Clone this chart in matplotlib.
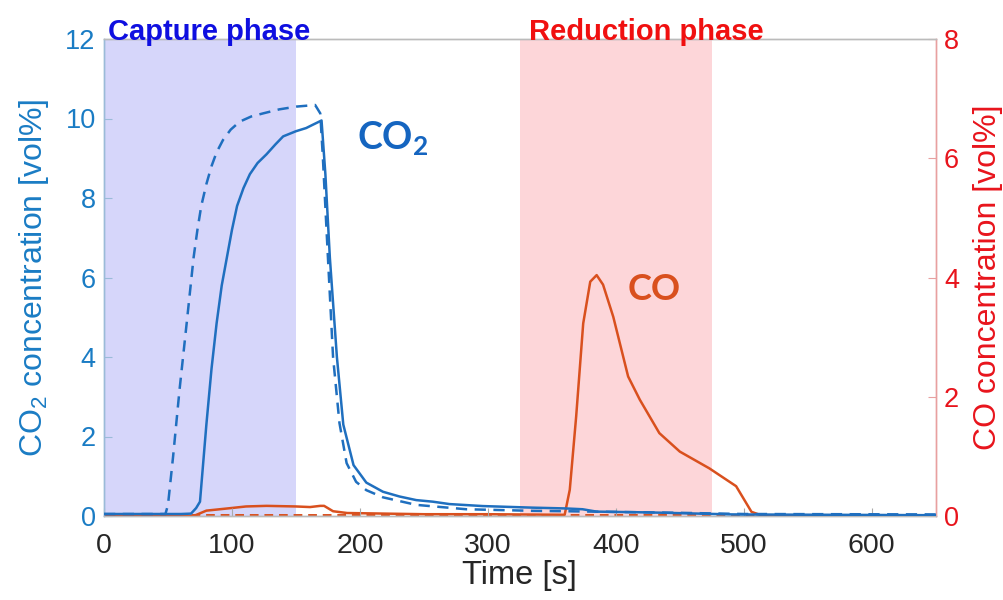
import matplotlib
matplotlib.use("Agg")
import matplotlib.pyplot as plt

# CO2 outlet, solid (measured) [vol%]
co2_t = [0, 60, 68, 72, 75, 80, 84, 88, 92, 96, 100, 104, 109, 114, 120, 127, 134,
         140, 150, 158, 163, 170, 173, 176.5, 182, 187, 195, 205, 218, 231, 244, 257,
         270, 296, 335, 361, 374, 385, 426, 491, 650]
co2_v = [0.05, 0.05, 0.06, 0.2, 0.36, 2.3, 3.7, 4.85, 5.8, 6.5, 7.2, 7.8, 8.25, 8.6,
         8.88, 9.1, 9.35, 9.55, 9.68, 9.76, 9.84, 9.95, 8.6, 6.5, 4.0, 2.3, 1.28, 0.84,
         0.61, 0.49, 0.4, 0.36, 0.3, 0.25, 0.21, 0.19, 0.17, 0.11, 0.09, 0.04, 0.02]

# CO2, dashed (reference) [vol%]
co2d_t = [0, 48, 50, 54, 59, 64.6, 70, 73, 76, 80, 84, 88, 93, 99, 106, 115, 124.5,
          137, 150.5, 165, 169, 171, 175, 179, 184, 189.6, 197, 205, 218, 244, 283,
          335, 361, 450, 500, 650]
co2d_v = [0.05, 0.05, 0.28, 1.5, 3.17, 4.85, 6.5, 7.2, 7.8, 8.35, 8.8, 9.15, 9.46,
          9.72, 9.92, 10.05, 10.13, 10.23, 10.3, 10.34, 10.13, 9.04, 6.5, 4.0, 2.34,
          1.33, 0.86, 0.65, 0.47, 0.28, 0.17, 0.13, 0.12, 0.08, 0.05, 0.04]

# CO outlet, solid [vol%] (right axis)
co_t = [0, 70, 80, 98, 111, 127, 150, 161, 169, 172, 179, 190, 250, 300, 360, 364,
        369, 374.5, 380, 385, 390, 398, 409.6, 418.75, 434, 450, 473, 494, 506,
        512.5, 520, 650]
co_v = [0.0, 0.0, 0.09, 0.13, 0.16, 0.17, 0.16, 0.15, 0.17, 0.17, 0.08, 0.05, 0.03,
        0.03, 0.02, 0.44, 1.67, 3.23, 3.93, 4.04, 3.88, 3.34, 2.34, 1.95, 1.39, 1.08,
        0.8, 0.5, 0.07, 0.02, 0.0, 0.0]

# CO, dashed [vol%]
cod_t = [0, 650]
cod_v = [0.01, 0.01]

capture = (0, 150)
reduction = (325, 475)

BLUE_LINE = "#1f6fbf"
RED_LINE = "#d9501e"
BLUE_AX = "#1a7cc4"
RED_AX = "#e8141c"

plt.rcParams["font.family"] = ["Liberation Sans", "DejaVu Sans"]
plt.rcParams["mathtext.fontset"] = "custom"
plt.rcParams["mathtext.rm"] = "Liberation Sans"
plt.rcParams["mathtext.it"] = "Liberation Sans"
plt.rcParams["mathtext.bf"] = "Lato:bold"

fig = plt.figure(figsize=(10.04, 6.0), dpi=100)
ax = fig.add_axes([0.1036, 0.14, 0.8284, 0.795])
ax2 = ax.twinx()

# shaded phases go on the lower axes so every curve stays on top
ax2.axvspan(*capture, color="#d6d6fa", lw=0, zorder=0)
ax2.axvspan(*reduction, color="#fdd6d9", lw=0, zorder=0)

ax.plot(co2_t, co2_v, color=BLUE_LINE, lw=1.8, zorder=3)
ax.plot(co2d_t, co2d_v, color=BLUE_LINE, lw=1.8, ls=(0, (4.5, 3)), zorder=3)
ax2.plot(co_t, co_v, color=RED_LINE, lw=1.8, zorder=3)
ax2.plot(cod_t, cod_v, color=RED_LINE, lw=1.4, ls=(0, (4.5, 3)), zorder=2)

ax.set_xlim(0, 650)
ax.set_ylim(0, 12)
ax2.set_ylim(0, 8)
ax.set_xticks(range(0, 601, 100))
ax.set_yticks(range(0, 13, 2))
ax2.set_yticks(range(0, 9, 2))

ax.tick_params(axis="x", direction="in", length=6, labelsize=20.5, colors="#262626",
               pad=12)
ax.tick_params(axis="x", color="#aaaaaa")
ax.tick_params(axis="y", direction="in", length=6, labelsize=19.5, colors=BLUE_AX,
               pad=6)
ax2.tick_params(axis="y", direction="in", length=6, labelsize=19.5, colors=RED_AX,
                pad=6)
ax.tick_params(axis="y", color="#9bbbd8")
ax2.tick_params(axis="y", color="#e8a0a0")

for a in (ax, ax2):
    a.spines["top"].set_color("#bbbbbb")
    a.spines["bottom"].set_color("#bbbbbb")
    a.spines["left"].set_color("#9bbbd8")
    a.spines["right"].set_color("#e8a0a0")
    for s in a.spines.values():
        s.set_linewidth(1.0)

ax.set_xlabel("Time [s]", fontsize=23.5, color="#262626", labelpad=1)
ax.set_ylabel("CO$_2$ concentration [vol%]", fontsize=23, color=BLUE_AX, labelpad=10)
ax2.set_ylabel("CO concentration [vol%]", fontsize=23, color=RED_AX, labelpad=10)

ax.text(3, 11.98, "Capture phase", fontsize=21, fontweight="bold", color="#0f0fe0",
        ha="left", va="baseline", zorder=5)
ax.text(424, 11.98, "Reduction phase", fontsize=21, fontweight="bold", color="#f01010",
        ha="center", va="baseline", zorder=5)

ax.text(198, 9.5, "CO$_\\mathbf{2}$", fontsize=27, fontweight="bold", color="#1565c0",
        ha="left", va="center", family=["Lato", "DejaVu Sans"], zorder=5)
ax.text(409, 5.7, "CO", fontsize=26, fontweight="bold", color="#d9501e",
        ha="left", va="center", family=["Lato", "DejaVu Sans"], zorder=5)

ax.set_zorder(ax2.get_zorder() + 1)
ax.patch.set_visible(False)

fig.savefig("out.png", dpi=100)
